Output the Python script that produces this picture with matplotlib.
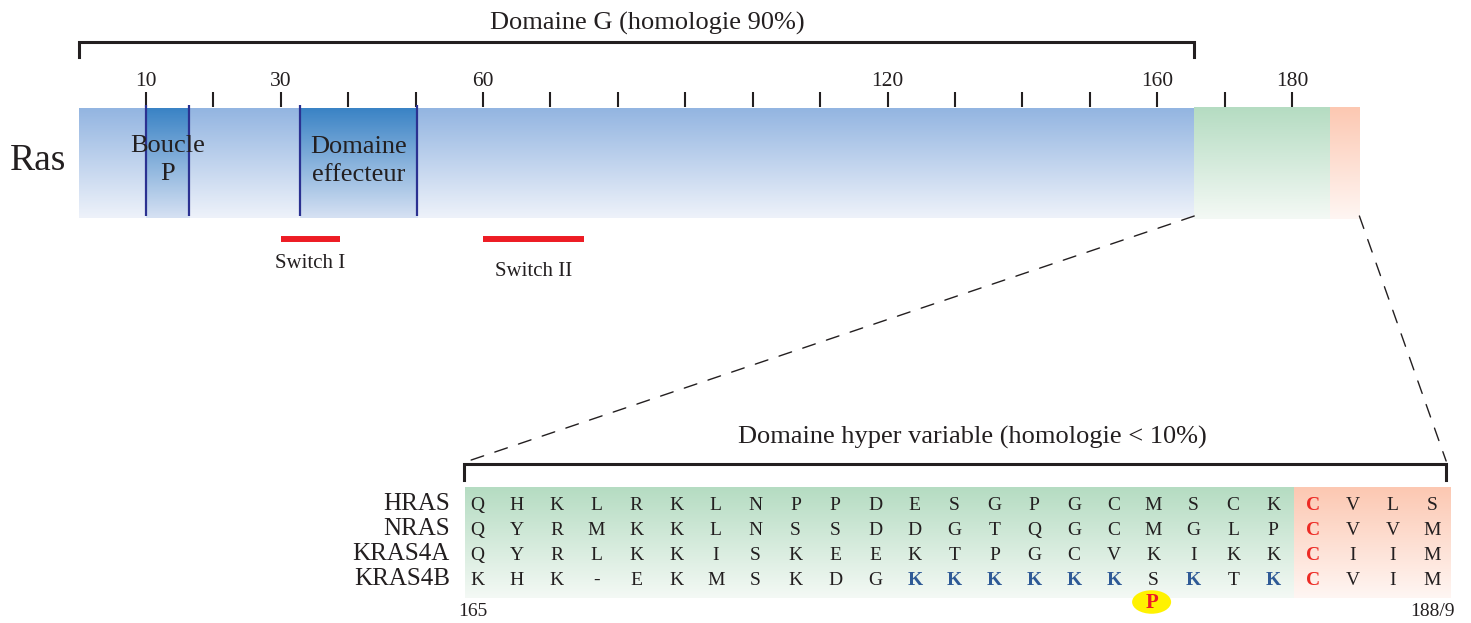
"""
Ras : domaine G et domaine hyper variable
"""
import numpy as np
import matplotlib
matplotlib.use('Agg')
import matplotlib.pyplot as plt
from matplotlib.patches import Ellipse, ConnectionPatch
from matplotlib.colors import to_rgb

plt.rcParams['font.family'] = ['Liberation Serif', 'DejaVu Serif']

INK = '#231f20'

# --- top bar (residue numbers) ---
g_domain = (0, 165.5)
hvr_main = (165.5, 185.6)
hvr_tail = (185.6, 190)
ploop = (10, 16.4)
effector = (32.8, 50.2)
switch1 = (30, 38.8)
switch2 = (60, 75)
tick_pos = list(range(10, 190, 10))
tick_labels = [10, 30, 60, 120, 160, 180]

# --- hyper variable region ---
rows = ['HRAS', 'NRAS', 'KRAS4A', 'KRAS4B']
seqs = [
    'QHKLRKLNPPDESGPGCMSCKCVLS',
    'QYRMKKLNSSDDGTQGCMGLPCVVM',
    'QYRLKKISKEEKTPGCVKIKKCIIM',
    'KHK-EKMSKDGKKKKKKSKTKCVIM',
]
cys_col = 21
polybasic_cols = [11, 12, 13, 14, 15, 16, 18, 20]
phospho_col = 17
first_res, last_res = '165', '188/9'


def vgrad(ax, x0, x1, y0, y1, top, bottom, z=1):
    c0, c1 = np.array(to_rgb(top)), np.array(to_rgb(bottom))
    t = np.linspace(0, 1, 128)[:, None]
    img = (c0 * (1 - t) + c1 * t)[:, None, :]
    ax.imshow(img, extent=(x0, x1, y1, y0), origin='upper', aspect='auto',
              interpolation='bilinear', zorder=z)


fig = plt.figure(figsize=(14.71, 6.23), dpi=100)

# pixel overlay, residue axes and sequence-grid axes all share the full figure
ax = fig.add_axes([0, 0, 1, 1])
ax_top = fig.add_axes([0, 0, 1, 1])
ax_seq = fig.add_axes([0, 0, 1, 1])
for a in (ax, ax_top, ax_seq):
    a.axis('off')
    a.patch.set_alpha(0)

# ---------- top ----------
bar_top, bar_bot = 108, 218
vgrad(ax_top, g_domain[0], g_domain[1], bar_top, bar_bot, '#93b5e1', '#eef2fa')
vgrad(ax_top, hvr_main[0], hvr_main[1], bar_top - 1, bar_bot + 1, '#b5dcc2', '#f4f9f5')
vgrad(ax_top, hvr_tail[0], hvr_tail[1], bar_top - 1, bar_bot + 1, '#fcc8b2', '#fff6f3')
for lo, hi in (ploop, effector):
    vgrad(ax_top, lo, hi, bar_top, bar_bot, '#3a83c5', '#d6e1f3', z=2)
    ax_top.vlines([lo, hi], 105, 216, color='#2b3191', lw=1.6, zorder=3)

ax_top.text(np.mean(ploop), 160, 'Boucle\nP', ha='center', va='center',
            fontsize=19, color=INK, linespacing=1.4, zorder=4)
ax_top.text(np.mean(effector), 161, 'Domaine\neffecteur', ha='center', va='center',
            fontsize=19, color=INK, linespacing=1.4, zorder=4)

ax_top.vlines(tick_pos, 92, 107, color=INK, lw=1.5)
for t in tick_labels:
    ax_top.text(t, 81, str(t), ha='center', va='center', fontsize=15.5, color=INK)

# bracket over G domain
ax_top.plot([g_domain[0], g_domain[0], g_domain[1], g_domain[1]], [57, 42, 42, 57],
            color=INK, lw=2.2, solid_joinstyle='miter')
ax_top.text(np.mean(g_domain) + 1.6, 23, 'Domaine G (homologie 90%)', ha='center',
            va='center', fontsize=19, color=INK)

for (lo, hi), lab, ly in ((switch1, 'Switch I', 264), (switch2, 'Switch II', 271)):
    ax_top.plot([lo, hi], [239, 239], color='#ed1c24', lw=4.3, solid_capstyle='butt')
    ax_top.text((lo + hi) / 2, ly, lab, ha='center', va='center', fontsize=15, color=INK)

ax.text(10, 161, 'Ras', ha='left', va='center', fontsize=27, color=INK)

# ---------- hyper variable region ----------
ncol = len(seqs[0])
vgrad(ax_seq, -0.3, cys_col - 0.47, -0.6, 3.8, '#b5dcc2', '#f4f9f5')
vgrad(ax_seq, cys_col - 0.47, ncol - 0.55, -0.6, 3.8, '#fcc8b2', '#fff6f3')

for r, (name, seq) in enumerate(zip(rows, seqs)):
    ax_seq.text(-0.68, r + 0.05, name, ha='right', va='center', fontsize=18, color=INK)
    for c, aa in enumerate(seq):
        color, weight = INK, 'normal'
        if c == cys_col:
            color, weight = '#ed2a24', 'bold'
        elif name == 'KRAS4B' and c in polybasic_cols:
            color, weight = '#2f5a96', 'bold'
        ax_seq.text(c, r + 0.1, aa, ha='center', va='center', fontsize=14,
                    color=color, fontweight=weight, zorder=3)

ax_seq.add_patch(Ellipse((phospho_col - 0.05, 3.96), 0.98, 0.94,
                         facecolor='#fff200', edgecolor='none', zorder=4))
ax_seq.text(phospho_col - 0.05, 4.02, 'P', ha='center', va='center', fontsize=15,
            fontweight='bold', color='#ed1c24', zorder=5)

ax_seq.text(-0.1, 4.32, first_res, ha='center', va='center', fontsize=14, color=INK)
ax_seq.text(ncol - 0.43, 4.36, last_res, ha='right', va='center', fontsize=14, color=INK)

# bracket over hyper variable domain
ax_seq.plot([-0.33, -0.33, ncol - 0.65, ncol - 0.65], [-0.92, -1.56, -1.56, -0.92],
            color=INK, lw=2.2, solid_joinstyle='miter')
ax_seq.text(12.44, -2.64, 'Domaine hyper variable (homologie < 10%)', ha='center',
            va='center', fontsize=19, color=INK)

# scales: residue -> pixel for the top, column/row -> pixel for the grid
ax.set_xlim(0, 1471)
ax.set_ylim(623, 0)
ax_top.set_xlim(-78.6 / 6.741, (1471 - 78.6) / 6.741)
ax_top.set_ylim(623, 0)
ax_seq.set_xlim(-477 / 39.8, (1471 - 477) / 39.8)
ax_seq.set_ylim((623 - 503) / 25, -503 / 25)

# zoom lines
for xa, ya, xb, yb in ((hvr_main[0], bar_bot - 2, -0.33, -1.62),
                       (hvr_tail[1], bar_bot - 2, ncol - 0.65, -1.68)):
    con = ConnectionPatch(xyA=(xa, ya), coordsA=ax_top.transData,
                          xyB=(xb, yb), coordsB=ax_seq.transData,
                          color=INK, lw=1.0, linestyle=(0, (9.5, 8.5)))
    fig.add_artist(con)

fig.savefig('out.png', dpi=100)
